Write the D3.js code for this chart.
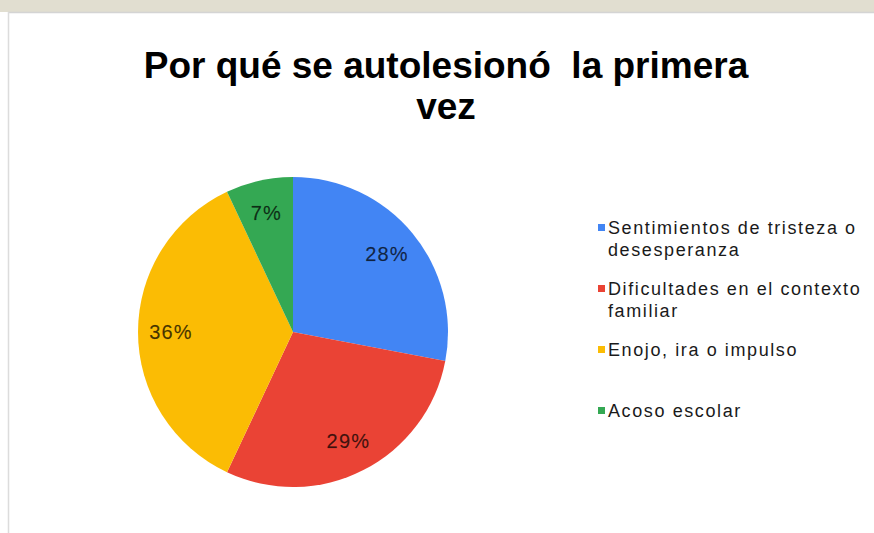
<!DOCTYPE html>
<html>
<head>
<meta charset="utf-8">
<script src="https://cdn.jsdelivr.net/npm/d3@7"></script>
<style>
  html, body { margin: 0; padding: 0; background: #fff; }
  svg { display: block; }
</style>
</head>
<body>
<svg id="chart" width="874" height="533"></svg>
<script>
const titleLines = ["Por qué se autolesionó  la primera", "vez"];
const categories = [
  "Sentimientos de tristeza o desesperanza",
  "Dificultades en el contexto familiar",
  "Enojo, ira o impulso",
  "Acoso escolar"
];
const legendLines = [
  ["Sentimientos de tristeza o", "desesperanza"],
  ["Dificultades en el contexto", "familiar"],
  ["Enojo, ira o impulso"],
  ["Acoso escolar"]
];
const values = [28, 29, 36, 7];
const colors = ["#4285f4", "#ea4335", "#fbbc04", "#34a853"];

const svg = d3.select("#chart");
const W = 874, H = 533;

// top band (page background above the chart box)
svg.append("rect").attr("x", 0).attr("y", 0).attr("width", W).attr("height", 12).attr("fill", "#e1ded0");
svg.append("rect").attr("x", 8).attr("y", 12).attr("width", W - 8).attr("height", H - 12).attr("fill", "#fff");
svg.append("line").attr("x1", 8).attr("x2", W).attr("y1", 12.5).attr("y2", 12.5).attr("stroke", "#d4d4d4").attr("stroke-width", 1.5);
svg.append("line").attr("x1", 8.5).attr("x2", 8.5).attr("y1", 12).attr("y2", H).attr("stroke", "#dcdcdc").attr("stroke-width", 1.5);

// title
const title = svg.append("text")
  .attr("x", 446).attr("y", 78)
  .attr("text-anchor", "middle")
  .attr("font-family", "'Liberation Sans', Arial, sans-serif")
  .attr("font-weight", "bold")
  .attr("font-size", 37)
  .attr("fill", "#000")
  .style("white-space", "pre");
titleLines.forEach((t, i) => {
  title.append("tspan").attr("x", 446).attr("dy", i === 0 ? 0 : 41).text(t);
});

// pie
const cx = 293, cy = 332, R = 155;
const pie = d3.pie().sort(null).value(d => d)(values);
const arc = d3.arc().innerRadius(0).outerRadius(R);
const labelArc = d3.arc().innerRadius(122).outerRadius(122);
const g = svg.append("g").attr("transform", `translate(${cx},${cy})`);
g.selectAll("path").data(pie).enter().append("path")
  .attr("d", arc)
  .attr("fill", (d, i) => colors[i]);

const total = d3.sum(values);
g.selectAll("text.lbl").data(pie).enter().append("text")
  .attr("class", "lbl")
  .attr("transform", d => `translate(${labelArc.centroid(d)})`)
  .attr("text-anchor", "middle")
  .attr("dominant-baseline", "central")
  .attr("font-family", "'Liberation Sans', Arial, sans-serif")
  .attr("font-size", 20)
  .attr("letter-spacing", 1.2)
  .attr("fill", "#000")
  .attr("fill-opacity", 0.72)
  .attr("stroke", "#000")
  .attr("stroke-opacity", 0.3)
  .attr("stroke-width", 0.4)
  .text(d => Math.round(d.data / total * 100) + "%");

// legend
const lg = svg.append("g");
legendLines.forEach((lines, i) => {
  const y0 = 234 + i * 61;
  lg.append("rect").attr("x", 598).attr("y", y0 - 10).attr("width", 7).attr("height", 7).attr("fill", colors[i]);
  const t = lg.append("text")
    .attr("x", 608).attr("y", y0)
    .attr("font-family", "'Liberation Sans', Arial, sans-serif")
    .attr("font-size", 18)
    .attr("letter-spacing", 1.6)
    .attr("fill", "#1a1a1a");
  lines.forEach((ln, j) => {
    t.append("tspan").attr("x", 608).attr("dy", j === 0 ? 0 : 22).text(ln);
  });
});
</script>
</body>
</html>
